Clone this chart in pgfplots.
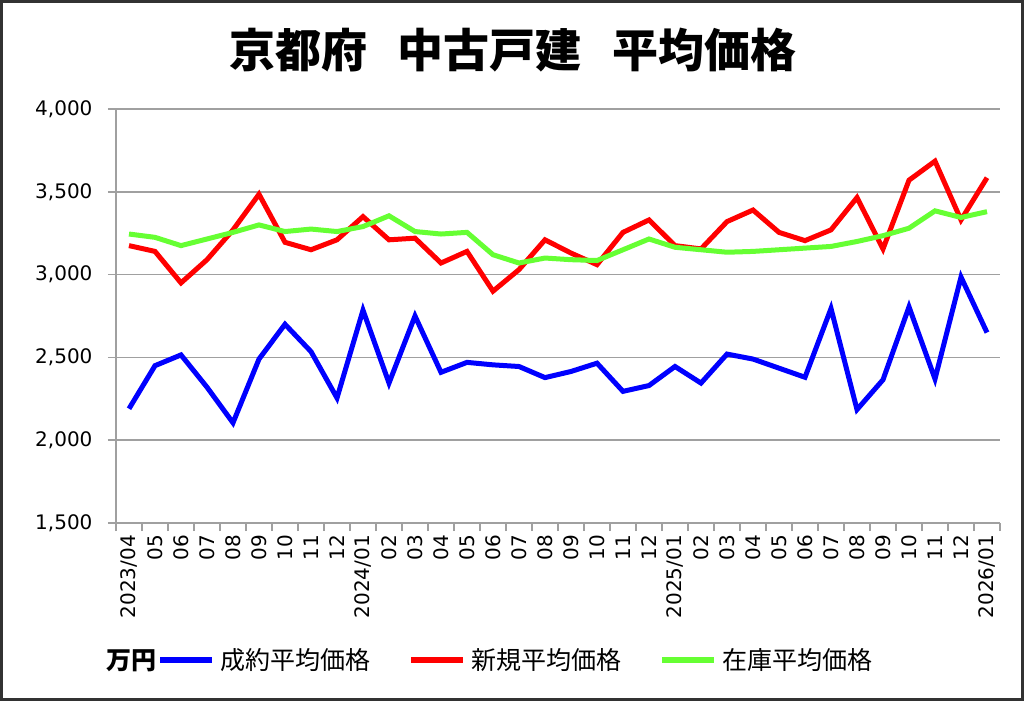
\documentclass[border=0pt]{standalone}
\usepackage{fontspec}
\usepackage{pgfplots}
\pgfplotsset{compat=1.18}
\setmainfont{DejaVu Sans}
\newfontfamily\cjk{Noto Sans CJK JP}
\definecolor{gridgray}{RGB}{160,160,160}
\definecolor{sgreen}{RGB}{102,255,51}
\definecolor{frame}{RGB}{50,50,50}
\pgfplotstableread{
idx blue red green
0 2190 3175 3245
1 2450 3140 3225
2 2515 2950 3175
3 2320 3090 3215
4 2105 3270 3255
5 2490 3485 3300
6 2700 3195 3260
7 2535 3150 3275
8 2255 3210 3260
9 2785 3350 3290
10 2345 3210 3355
11 2750 3220 3260
12 2410 3070 3245
13 2470 3140 3255
14 2455 2900 3120
15 2445 3030 3070
16 2378 3210 3100
17 2415 3130 3090
18 2465 3060 3085
19 2295 3255 3150
20 2330 3330 3215
21 2445 3175 3165
22 2345 3155 3150
23 2520 3320 3135
24 2490 3390 3140
25 2435 3255 3150
26 2380 3205 3160
27 2795 3270 3170
28 2185 3465 3200
29 2365 3155 3235
30 2805 3570 3280
31 2370 3685 3385
32 2985 3330 3345
33 2650 3585 3380
}\datatable
\begin{document}
\begin{tikzpicture}
\useasboundingbox (0,0) rectangle (1024pt,701pt);
\fill[white] (0,0) rectangle (1024pt,701pt);
\draw[line width=3pt, frame] (1.5pt,1.5pt) rectangle (1022.5pt,699.5pt);
\node[font=\cjk\bfseries\fontsize{46}{46}\selectfont, inner sep=0pt] at (513pt,651pt) {京都府\hspace{0.67em}中古戸建\hspace{0.67em}平均価格};
\begin{axis}[
  at={(116pt,178pt)}, anchor=south west,
  scale only axis, width=884pt, height=414pt,
  xmin=-0.5, xmax=33.5, ymin=1500, ymax=4000,
  ytick={1500,2000,...,4000},
  ymajorgrids,
  grid style={line width=1.5pt, gridgray},
  axis lines*=left,
  axis line style={line width=1.5pt, gridgray},
  tick style={line width=1.5pt, gridgray},
  tick align=outside,
  major tick length=8pt,
  xtick={-0.5,0.5,...,33.5},
  xticklabels={},
  extra x ticks={0,1,...,33},
  extra x tick labels={2023/04,05,06,07,08,09,10,11,12,2024/01,02,03,04,05,06,07,08,09,10,11,12,2025/01,02,03,04,05,06,07,08,09,10,11,12,2026/01},
  extra x tick style={major tick length=0pt, xticklabel style={rotate=90, anchor=east, font=\fontsize{20}{20}\selectfont, inner sep=12pt}},
  yticklabel style={font=\fontsize{20}{20}\selectfont, /pgf/number format/1000 sep={,}, xshift=-12pt},
  /pgf/number format/assume math mode=true,
  legend columns=-1,
  legend style={at={(-0.0204,-0.331)}, anchor=west, draw=none, fill=none,
    font=\cjk\fontsize{25}{25}\selectfont,
    /tikz/every even column/.append style={column sep=36pt},
    /tikz/every odd column/.append style={column sep=3pt}},
  legend image code/.code={\draw[#1, line width=6pt] (0pt,0pt) -- (52pt,0pt);},
]
\addlegendimage{empty legend}
\addlegendentry{\textbf{万円}\kern-37pt}
\addplot[blue, line width=5pt] table[x=idx, y=blue] {\datatable};
\addlegendentry{成約平均価格}
\addplot[red, line width=5pt] table[x=idx, y=red] {\datatable};
\addlegendentry{新規平均価格}
\addplot[sgreen, line width=5pt] table[x=idx, y=green] {\datatable};
\addlegendentry{在庫平均価格}
\end{axis}
\end{tikzpicture}
\end{document}
